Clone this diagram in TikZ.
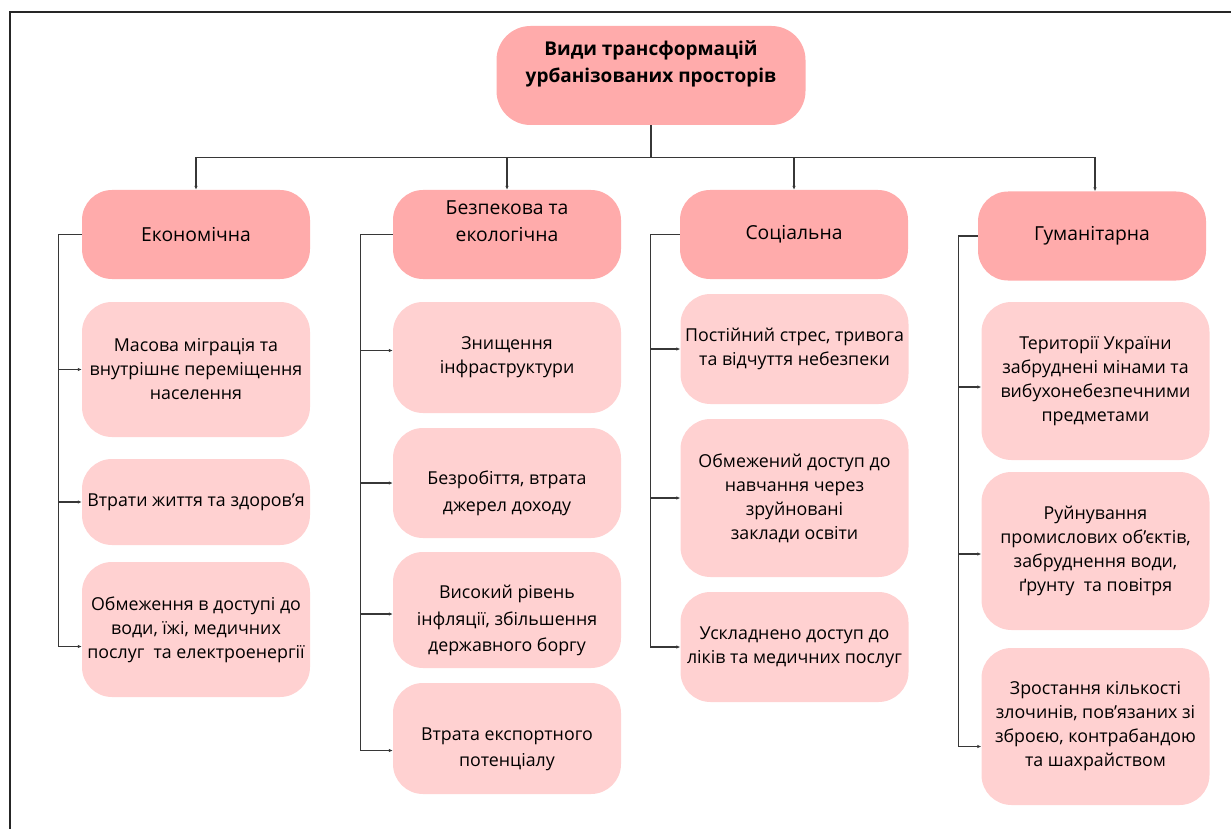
\documentclass[tikz,border=0pt]{standalone}
\usepackage{fontspec}
\setmainfont{Open Sans}
\usetikzlibrary{arrows.meta}
\definecolor{rootpink}{RGB}{255,171,171}
\definecolor{leafpink}{RGB}{255,209,209}
\definecolor{wirecol}{RGB}{55,55,55}

\begin{document}
\begin{tikzpicture}[x=1pt,y=-1pt,
        base/.style={rounded corners=30pt,align=center,inner sep=2pt,font=\fontsize{17.8}{24}\selectfont},
        rootbox/.style={base,fill=rootpink,minimum width=309pt,minimum height=99pt,rounded corners=34pt,font=\fontsize{19}{27}\selectfont\bfseries},
        typebox/.style={base,fill=rootpink,minimum width=228pt,minimum height=89pt,font=\fontsize{19.3}{27}\selectfont},
        itembox/.style={base,fill=leafpink,minimum width=228pt},
        loose/.style={itembox,font=\fontsize{17.8}{26.5}\selectfont},
        wire/.style={draw=wirecol,line width=1.2pt},
        feed/.style={wire,-{Latex[length=4pt,width=3.5pt]}}]
        \useasboundingbox (0,0) rectangle (1231,829);
        % frame (only left and top edges show)
        \draw[line width=1.4pt,black!85] (10,829) -- (10,12) -- (1231,12);

        % root and the four kinds
        \node[rootbox] (root) at (651,75.5) {Види трансформацій\\урбанізованих просторів\\ \mbox{}};
        \node[typebox] (eco) at (196,234.5) {Економічна};
        \node[typebox] (sec) at (507,234.5) {Безпекова та\\екологічна\\ \mbox{}};
        \node[typebox] (soc) at (794,234.5) {Соціальна};
        \node[typebox] (hum) at (1092,236) {Гуманітарна};

        % economic column
        \node[itembox,minimum height=135pt] (e1) at (196,369.5) {Масова міграція та\\внутрішнє переміщення\\населення};
        \node[itembox,minimum height=86pt] (e2) at (196,502) {Втрати життя та здоров’я};
        \node[itembox,minimum height=135pt] (e3) at (196,629.5) {Обмеження в доступі до\\води, їжі, медичних\\послуг\ \ та електроенергії};

        % security and ecology column
        \node[itembox,minimum height=111pt] (s1) at (507,357.5) {Знищення\\інфраструктури};
        \node[loose,minimum height=110pt] (s2) at (507,483) {\mbox{}\\[8pt]Безробіття, втрата\\джерел доходу};
        \node[loose,minimum height=116pt] (s3) at (507,610) {\mbox{}\\[8pt]Високий рівень\\інфляції, збільшення\\державного боргу};
        \node[loose,minimum height=111pt] (s4) at (507,738.5) {\mbox{}\\[8pt]Втрата експортного\\потенціалу};

        % social column
        \node[itembox,minimum height=110pt] (c1) at (794.5,349) {Постійний стрес, тривога\\та відчуття небезпеки};
        \node[itembox,minimum height=158pt] (c2) at (794.5,498) {Обмежений доступ до\\навчання через\\зруйновані\\заклади освіти};
        \node[itembox,minimum height=110pt] (c3) at (794.5,647) {Ускладнено доступ до\\ліків та медичних послуг};

        % humanitarian column
        \node[itembox,minimum height=158pt] (h1) at (1095.5,381) {Території України\\забруднені мінами та\\вибухонебезпечними\\предметами};
        \node[itembox,minimum height=158pt] (h2) at (1095.5,551) {Руйнування\\промислових об’єктів,\\забруднення води,\\ґрунту\ \ та повітря};
        \node[itembox,minimum height=157pt] (h3) at (1095.5,726.5) {Зростання кількості\\злочинів, пов’язаних зі\\зброєю, контрабандою\\та шахрайством};

        % root fan-out
        \draw[wire] (root.south) -- ++(0,32) coordinate (hub);
        \draw[wire] (eco.north |- hub) -- ([xshift=3pt]hum.north |- hub);
        \draw[feed] (eco.north |- hub) -- (eco.north);
        \draw[feed] (sec.north |- hub) -- (sec.north);
        \draw[feed] (soc.north |- hub) -- (soc.north);
        \draw[feed] ([xshift=3pt]hum.north |- hub) -- ([xshift=3pt]hum.north);

        % side rails
        \draw[feed] (eco.west) -- ++(-23,0) |- ([yshift=-17pt]e3.west);
        \draw[feed] ([xshift=-23pt]e1.west) -- (e1.west);
        \draw[feed] ([xshift=-23pt]e2.west) -- (e2.west);

        \draw[feed] (sec.west) -- ++(-32,0) |- ([yshift=-12pt]s4.west);
        \draw[feed] ([xshift=-32pt,yshift=7pt]s1.west) -- ([yshift=7pt]s1.west);
        \draw[feed] ([xshift=-32pt]s2.west) -- (s2.west);
        \draw[feed] ([xshift=-32pt,yshift=-4pt]s3.west) -- ([yshift=-4pt]s3.west);

        \draw[feed] (soc.west) -- ++(-29,0) |- (c3.west);
        \draw[feed] ([xshift=-29pt]c1.west) -- (c1.west);
        \draw[feed] ([xshift=-29pt]c2.west) -- (c2.west);

        \draw[feed] (hum.west) -- ++(-19,0) |- ([yshift=-20pt]h3.west);
        \draw[feed] ([xshift=-23pt,yshift=-6pt]h1.west) -- ([yshift=-6pt]h1.west);
        \draw[feed] ([xshift=-23pt,yshift=-3pt]h2.west) -- ([yshift=-3pt]h2.west);
    \end{tikzpicture}
\end{document}
